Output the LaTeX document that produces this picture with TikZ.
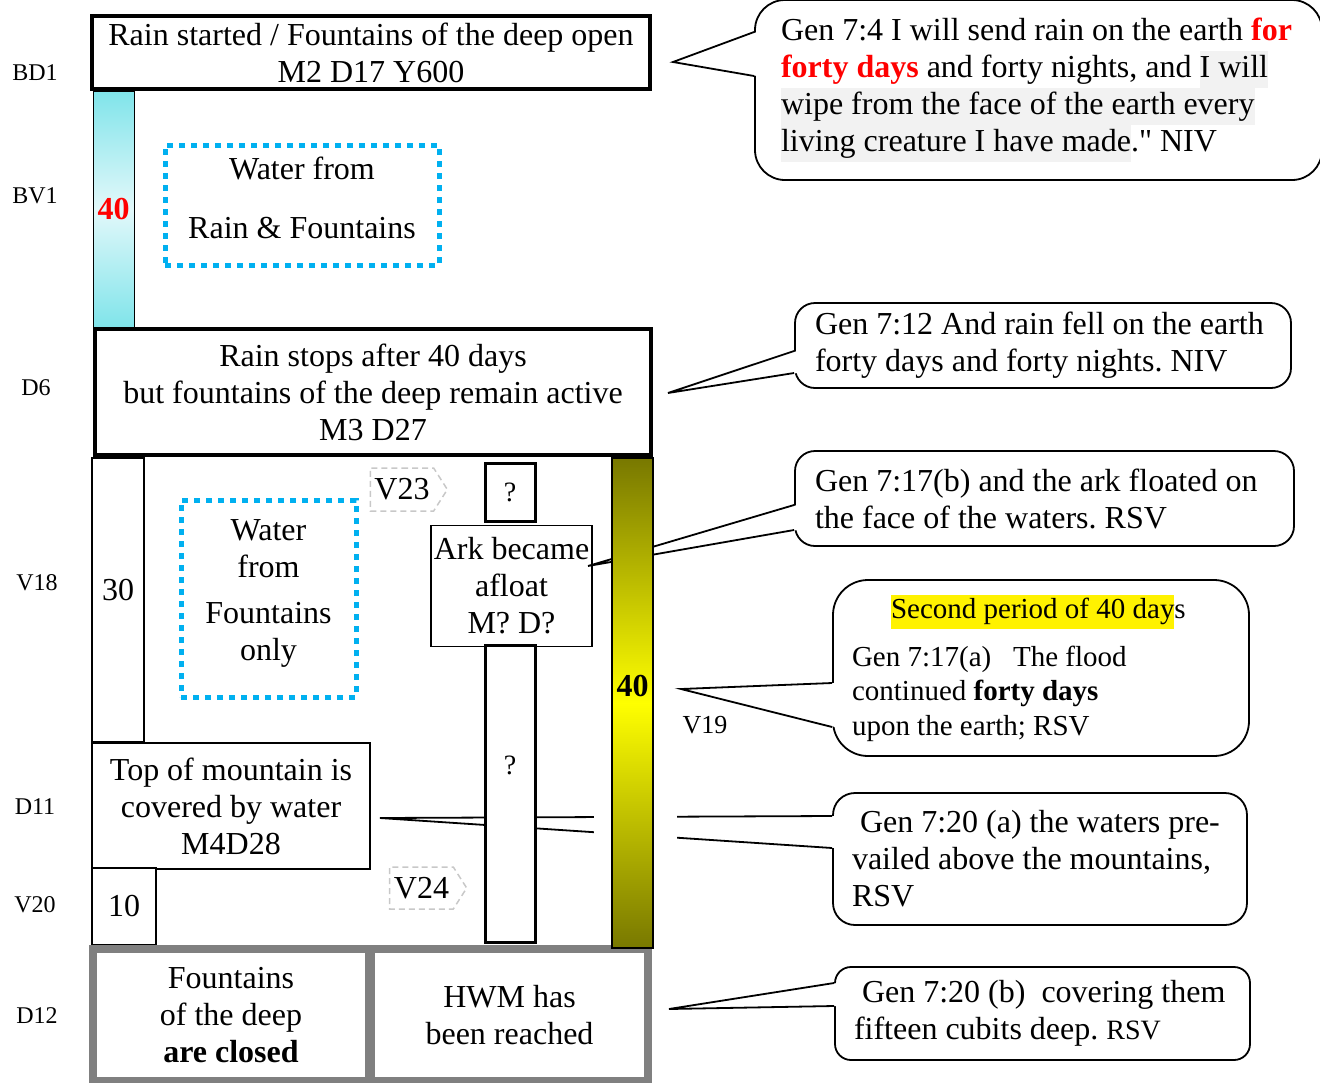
\documentclass[tikz,border=0pt]{standalone}
\usepackage{fontspec}
\setmainfont{Liberation Serif}
\usetikzlibrary{shapes.symbols, calc}
\definecolor{dotblue}{RGB}{0,176,240}
\definecolor{cyanedge}{RGB}{128,228,234}
\definecolor{cyanmid}{RGB}{226,248,250}
\definecolor{olivedge}{RGB}{120,120,0}
\definecolor{framegray}{RGB}{128,128,128}
\definecolor{taggray}{RGB}{200,200,200}
\definecolor{hlgray}{RGB}{242,242,242}
\newcommand{\greyhl}[1]{{\setlength{\fboxsep}{0pt}\colorbox{hlgray}{\strut #1}}}
\newcommand{\yellowhl}[1]{{\setlength{\fboxsep}{0pt}\colorbox{yellow}{\strut #1}}}
% callout pointer: node, top and bottom of its base on the west side, tip
\newcommand{\calloutpointer}[4]{%
  \fill[white] ($(#1.west |- 0,#2)+(3,0)$) -- (#4) -- ($(#1.west |- 0,#3)+(3,0)$) -- cycle;
  \draw[bubbleline] (#1.west |- 0,#2) -- (#4) -- (#1.west |- 0,#3);
}
\tikzset{
  txt/.style={font=\fontsize{32}{37}\selectfont, align=center, inner sep=0pt},
  daylabel/.style={font=\fontsize{24}{28}\selectfont, inner sep=0pt},
  thickbox/.style={draw, line width=4pt, fill=white},
  thinbox/.style={draw, line width=1.5pt, fill=white},
  dotbox/.style={draw=dotblue, line width=5pt, dash pattern=on 6pt off 6pt},
  versetag/.style={signal, signal to=east, signal pointer angle=115, draw=taggray,
    line width=1.5pt, dash pattern=on 6pt off 4pt, inner sep=0pt},
  bubble/.style={draw, line width=1.8pt, fill=white, align=left, inner ysep=0pt,
    font=\fontsize{32}{37}\selectfont,
    execute at begin node={\spaceskip=0pt \xspaceskip=0pt \frenchspacing}},
  bubbleline/.style={line width=1.8pt, line join=miter}
}

\begin{document}
\frenchspacing
\begin{tikzpicture}[x=1pt, y=-1pt]
\useasboundingbox (0,0) rectangle (1320,1082);

% day and verse marks
\node[daylabel] (bd1) at (35,73) {BD1};
\node[daylabel] (bv1) at (35,196) {BV1};
\node[daylabel] (d6) at (36,388) {D6};
\node[daylabel] (v18) at (37,583) {V18};
\node[daylabel] (d11) at (35,807) {D11};
\node[daylabel] (v20) at (35,905) {V20};
\node[daylabel] (d12) at (37,1016) {D12};

% first forty days
\node[draw, line width=1pt, minimum width=41pt, minimum height=236pt,
  top color=cyanedge, bottom color=cyanedge, middle color=cyanmid,
  txt, text=red, font=\fontsize{32}{37}\selectfont\bfseries] (rainbar) at (113.5,209) {40};
\node[thickbox, txt, minimum width=558pt, minimum height=73pt] (start) at (371,52.5)
  {Rain started / Fountains of the deep open\\M2 D17 Y600};
\node[dotbox, minimum width=274pt, minimum height=120pt,
  label={[txt, yshift=7pt]center:{Water from\\[22pt]Rain \& Fountains}}] (rainwater) at (302,205) {};
\node[thickbox, txt, minimum width=556pt, minimum height=126pt] (stop) at (373,392)
  {Rain stops after 40 days\\but fountains of the deep remain active\\M3 D27};

% after the rain
\node[thinbox, minimum width=52pt, minimum height=284pt] (col30) at (118,600) {};
\node[txt] (n30) at ([yshift=10pt]col30.center) {30};
\node[dotbox, minimum width=175pt, minimum height=197pt,
  label={[txt, yshift=5pt]center:{Water\\from\\[9pt]Fountains\\only}}] (deepwater) at (268.5,598.5) {};
\node[versetag, txt, minimum width=77pt, minimum height=43pt] (v23) at (402,489.5) {V23};
\node[thickbox, line width=3pt, minimum width=50pt, minimum height=58pt, txt,
  font=\fontsize{28}{32}\selectfont] (qtop) at (510,492) {?};
\node[thinbox, txt, minimum width=161pt, minimum height=121pt] (afloat) at (511.5,586)
  {Ark became\\afloat\\M? D?};
\node[thinbox, txt, minimum width=278pt, minimum height=126pt] (summit) at (231,806)
  {Top of mountain is\\covered by water\\M4D28};
\node[thinbox, txt, minimum width=64pt, minimum height=77pt] (col10) at (124,906.5) {10};
\node[versetag, txt, minimum width=77pt, minimum height=42pt] (v24) at (421.5,888) {V24};

% high water mark
\node[fill=framegray, minimum width=563pt, minimum height=140pt, inner sep=0pt] (hwmframe) at (370.5,1015) {};
\node[fill=white, txt, minimum width=268pt, minimum height=124pt] (closed) at (231,1015)
  {Fountains\\of the deep\\\textbf{are closed}};
\node[fill=white, txt, minimum width=269pt, minimum height=124pt] (hwm) at (509.5,1015)
  {HWM has\\been reached};

% verses
\node[bubble, rounded corners=30pt, minimum width=567pt, minimum height=180pt,
  text width=515pt, inner xsep=26pt] (gen4) at (1038.5,90)
  {Gen 7:4 I will send rain on the earth \textcolor{red}{\textbf{for}}\\
   \textcolor{red}{\textbf{forty days}} and forty nights, and \greyhl{I will}\\
   \greyhl{wipe from the face of the earth every}\\
   \greyhl{living creature I have made}.\textquotedbl{} NIV};
\node[bubble, rounded corners=20pt, minimum width=496pt, minimum height=85pt,
  text width=456pt, inner xsep=20pt] (gen12) at (1043,345.5)
  {Gen 7:12 And rain fell on the earth\\forty days and forty nights. NIV};
\node[bubble, rounded corners=20pt, minimum width=499pt, minimum height=95pt,
  text width=459pt, inner xsep=20pt] (gen17b) at (1044.5,498.5)
  {Gen 7:17(b) and the ark floated on\\the face of the waters. RSV};
\node[bubble, rounded corners=35pt, minimum width=416pt, minimum height=176pt,
  text width=378pt, inner xsep=19pt, font=\fontsize{29}{34.5}\selectfont] (gen17a) at (1041,668)
  {\hspace*{39pt}\yellowhl{Second period of 40 day}s\\[13pt]
   Gen 7:17(a)\ \ \ The flood\\continued \textbf{forty days}\\upon the earth; RSV};
\node[bubble, rounded corners=22pt, minimum width=414pt, minimum height=132pt,
  text width=376pt, inner xsep=19pt] (gen20a) at (1040,859)
  {\hspace*{8pt}Gen 7:20 (a) the waters pre-\\vailed above the mountains,\\RSV};
\node[bubble, rounded corners=16pt, minimum width=415pt, minimum height=93pt,
  text width=377pt, inner xsep=19pt] (gen20b) at (1042.5,1013.5)
  {\hspace*{8pt}Gen 7:20 (b)\ \ covering them\\fifteen cubits deep. {\fontsize{28}{37}\selectfont RSV}};

\coordinate (gen4tip) at (673,62);
\coordinate (gen12tip) at (668,393);
\coordinate (gen17btip) at (588,566);
\coordinate (gen17atip) at (681,689);
\coordinate (gen20atip) at (380,818);
\coordinate (gen20btip) at (669,1009);
\calloutpointer{gen4}{32}{76}{gen4tip}
\calloutpointer{gen12}{351}{373}{gen12tip}
\calloutpointer{gen17b}{505}{530}{gen17btip}
\calloutpointer{gen17a}{683}{727}{gen17atip}
\calloutpointer{gen20a}{816}{848}{gen20atip}
\calloutpointer{gen20b}{983}{1006}{gen20btip}
\node[daylabel, font=\fontsize{26}{30}\selectfont] (v19) at (705,725) {V19};

% ark and second forty days
\node[thickbox, line width=3pt, minimum width=50pt, minimum height=297pt] (arkcol) at (510,793.5) {};
\node[txt, font=\fontsize{28}{32}\selectfont] (qmid) at ([yshift=28pt]arkcol.center) {?};
\fill[white] (594,805) rectangle (677,855);
\node[draw, line width=1.5pt, minimum width=41pt, minimum height=490pt,
  top color=olivedge, bottom color=olivedge, middle color=yellow] (flood40) at (632.5,703) {};
\node[txt, font=\fontsize{32}{37}\selectfont\bfseries] (n40) at ([yshift=17pt]flood40.center) {40};
\end{tikzpicture}
\end{document}
